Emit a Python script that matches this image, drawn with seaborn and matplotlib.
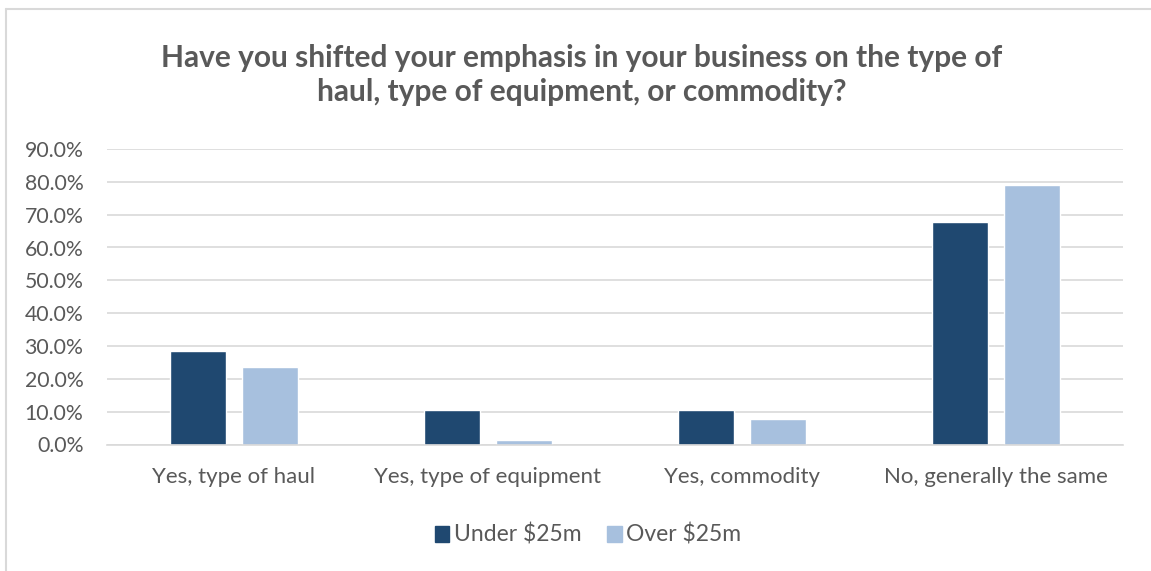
import matplotlib
matplotlib.use("Agg")
import matplotlib.pyplot as plt
from matplotlib.lines import Line2D
from matplotlib.ticker import FuncFormatter, MultipleLocator
import seaborn as sns
import pandas as pd

categories = ["Yes, type of haul", "Yes, type of equipment", "Yes, commodity", "No, generally the same"]
under_25m = [28.5, 10.5, 10.5, 67.7]
over_25m = [23.6, 1.4, 7.8, 79.1]
series_names = ["Under $25m", "Over $25m"]
colors = ["#1F4870", "#A7C0DE"]
title = "Have you shifted your emphasis in your business on the type of\nhaul, type of equipment, or commodity?"

df = pd.DataFrame({
    "category": categories * 2,
    "value": under_25m + over_25m,
    "group": [series_names[0]] * len(categories) + [series_names[1]] * len(categories),
})

sns.set_theme(style="white")
plt.rcParams["font.family"] = ["Lato", "DejaVu Sans"]
text_color = "#595959"

W, H = 1151, 571
fig = plt.figure(figsize=(W / 100, H / 100), dpi=100)
ax = fig.add_axes([107 / W, 1 - 444.5 / H, (1123 - 107) / W, (444.5 - 149) / H])

sns.barplot(data=df, x="category", y="value", hue="group", palette=colors,
            width=0.567, gap=0.21, ax=ax, legend=False, saturation=1)

ax.set_ylim(0, 90)
ax.set_xlim(-0.5, len(categories) - 0.5)
ax.yaxis.set_major_locator(MultipleLocator(10))
ax.yaxis.set_major_formatter(FuncFormatter(lambda v, p: f"{v:.1f}%"))
ax.grid(axis="y", color="#D9D9D9", linewidth=1.2)
ax.set_axisbelow(True)
for s in ["top", "right", "left"]:
    ax.spines[s].set_visible(False)
ax.spines["bottom"].set_color("#D9D9D9")
ax.spines["bottom"].set_linewidth(1.2)
ax.set_xlabel("")
ax.set_ylabel("")
ax.tick_params(axis="y", length=0, pad=17, labelsize=15.3, labelcolor=text_color)
ax.tick_params(axis="x", length=0, pad=16, labelsize=16, labelcolor=text_color)

fig.text(582 / W, 1 - 75 / H, title, ha="center", va="center", fontsize=21.5,
         fontweight="bold", color=text_color, linespacing=1.25)

handles = [plt.Rectangle((0, 0), 1, 1, color=c) for c in colors]
fig.legend(handles, series_names, loc="center", bbox_to_anchor=(588 / W, 1 - 535 / H),
           ncol=2, frameon=False, fontsize=16.5, labelcolor=text_color,
           handlelength=0.65, handleheight=0.65, handletextpad=0.2, columnspacing=1.1)

# outer chart border
fig.add_artist(Line2D([6 / W, 6 / W], [0, 1 - 9 / H], transform=fig.transFigure,
                      color="#D9D9D9", linewidth=1.5))
fig.add_artist(Line2D([6 / W, 1], [1 - 9 / H, 1 - 9 / H], transform=fig.transFigure,
                      color="#D9D9D9", linewidth=1.5))

fig.savefig("out.png", dpi=100, facecolor="white")
